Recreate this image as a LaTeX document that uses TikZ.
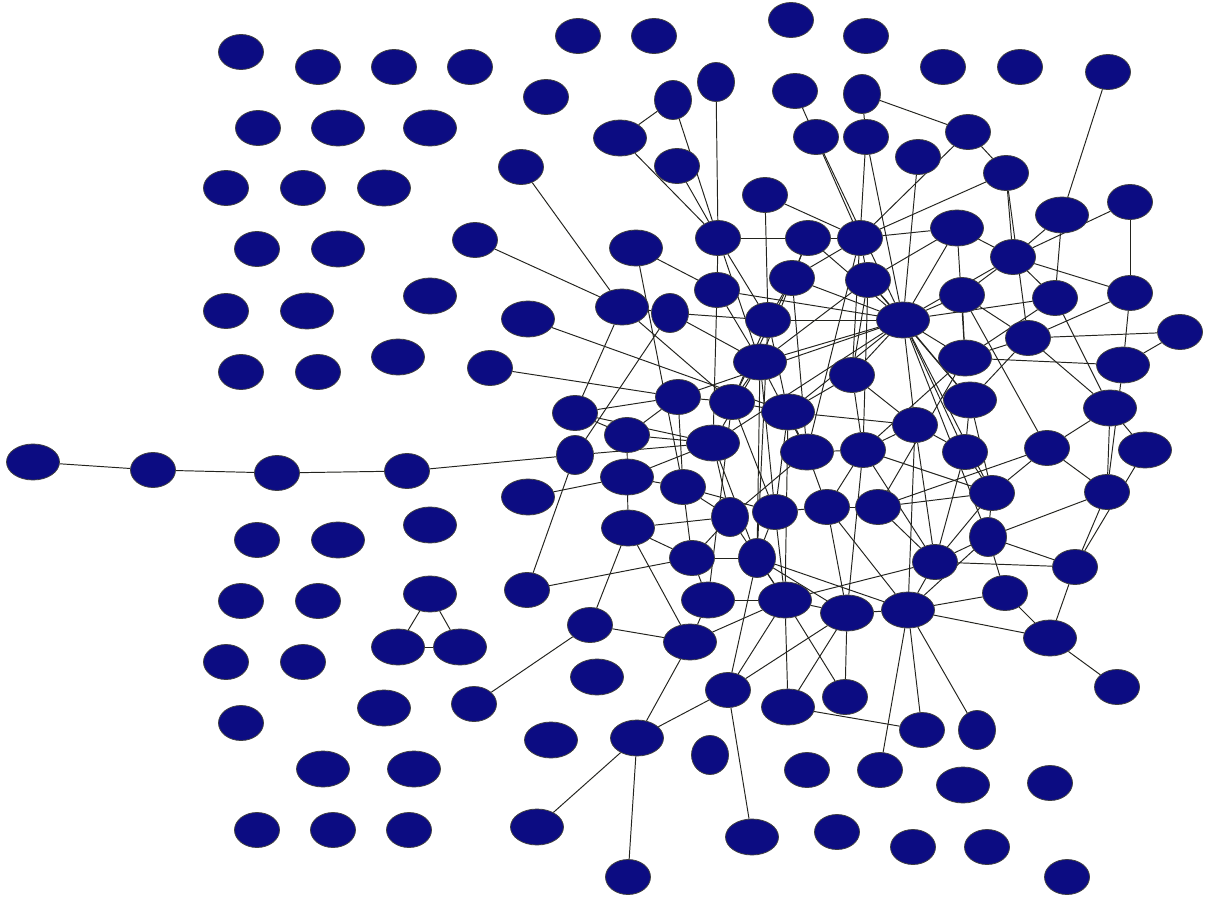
\documentclass[tikz,border=0pt]{standalone}
\usetikzlibrary{shapes.geometric,backgrounds}
\definecolor{navy}{RGB}{12,12,130}
\definecolor{edgec}{RGB}{35,35,30}
\tikzset{
  x=0.02cm, y=-0.02cm,
  nd/.style={ellipse, draw=black!75, fill=navy, inner sep=0pt, line width=0.45pt},
  ns/.style={nd, minimum width=0.9cm, minimum height=0.7cm},
  nw/.style={nd, minimum width=1.06cm, minimum height=0.72cm},
  nr/.style={nd, minimum width=0.74cm, minimum height=0.78cm},
  ed/.style={draw=edgec, line width=0.55pt}
}
\begin{document}
\begin{tikzpicture}
\useasboundingbox (0,0) rectangle (1209,898);
% left isolated
\node[ns] (i1) at (241,52) {};
\node[ns] (i2) at (318,67) {};
\node[ns] (i3) at (394,67) {};
\node[ns] (i4) at (470,67) {};
\node[ns] (i5) at (258,128) {};
\node[nw] (i6) at (338,128) {};
\node[nw] (i7) at (430,128) {};
\node[ns] (i8) at (226,188) {};
\node[ns] (i9) at (303,188) {};
\node[nw] (i10) at (384,188) {};
\node[ns] (i11) at (257,249) {};
\node[nw] (i12) at (338,249) {};
\node[nw] (i13) at (430,296) {};
\node[ns] (i14) at (226,311) {};
\node[nw] (i15) at (307,311) {};
\node[nw] (i16) at (398,357) {};
\node[ns] (i17) at (241,372) {};
\node[ns] (i18) at (318,372) {};
\node[nw] (c1) at (33,462) {};
\node[ns] (c2) at (153,470) {};
\node[ns] (c3) at (277,473) {};
\node[ns] (c4) at (407,471) {};
\node[nw] (i19) at (430,525) {};
\node[ns] (i20) at (257,540) {};
\node[nw] (i21) at (338,540) {};
\node[nw] (t1) at (430,594) {};
\node[nw] (t2) at (398,647) {};
\node[nw] (t3) at (460,647) {};
\node[ns] (i22) at (241,601) {};
\node[ns] (i23) at (318,601) {};
\node[ns] (i24) at (226,662) {};
\node[ns] (i25) at (303,662) {};
\node[ns] (i26) at (241,723) {};
\node[nw] (i27) at (384,708) {};
\node[ns] (n474) at (474,704) {};
\node[nw] (i28) at (323,769) {};
\node[nw] (i29) at (414,769) {};
\node[ns] (i30) at (257,830) {};
\node[ns] (i31) at (333,830) {};
\node[ns] (i32) at (409,830) {};
% top
\node[ns] (a1) at (578,36) {};
\node[ns] (a2) at (654,36) {};
\node[ns] (a3) at (791,20) {};
\node[ns] (a4) at (866,36) {};
\node[ns] (a5) at (943,67) {};
\node[ns] (a6) at (1020,67) {};
\node[ns] (a7) at (1108,72) {};
\node[ns] (a8) at (546,97) {};
\node[nr] (a9) at (673,100) {};
\node[nr] (a10) at (716,82) {};
\node[ns] (a11) at (795,91) {};
\node[nr] (a12) at (862,94) {};
\node[nw] (a13) at (620,138) {};
\node[ns] (a14) at (677,166) {};
\node[ns] (a15) at (816,137) {};
\node[ns] (a16) at (866,137) {};
\node[ns] (a17) at (918,157) {};
\node[ns] (a18) at (968,132) {};
\node[ns] (a19) at (1006,173) {};
\node[ns] (a20) at (521,167) {};
\node[ns] (a21) at (765,195) {};
\node[nw] (a22) at (1062,215) {};
\node[ns] (a23) at (1130,202) {};
\node[ns] (a24) at (475,240) {};
% middle
\node[nw] (b1) at (636,248) {};
\node[ns] (b2) at (718,238) {};
\node[ns] (b3) at (808,238) {};
\node[ns] (b4) at (860,238) {};
\node[nw] (b5) at (957,228) {};
\node[ns] (b6) at (1013,257) {};
\node[ns] (b7) at (792,278) {};
\node[ns] (b8) at (868,280) {};
\node[ns] (b9) at (717,290) {};
\node[ns] (b10) at (962,295) {};
\node[ns] (b11) at (1055,298) {};
\node[ns] (b12) at (1130,293) {};
\node[nw] (b13) at (528,319) {};
\node[nw] (b14) at (622,307) {};
\node[nr] (b15) at (670,313) {};
\node[ns] (b16) at (768,320) {};
\node[nw] (b17) at (903,320) {};
\node[ns] (b18) at (1028,338) {};
\node[ns] (b19) at (1180,332) {};
\node[ns] (b20) at (490,368) {};
\node[nw] (b21) at (760,362) {};
\node[nw] (b22) at (965,358) {};
\node[nw] (b23) at (1123,365) {};
\node[ns] (b24) at (852,375) {};
\node[nw] (b25) at (970,400) {};
\node[nw] (b26) at (1110,408) {};
\node[ns] (b27) at (575,413) {};
\node[ns] (b28) at (678,397) {};
\node[ns] (b29) at (732,402) {};
\node[nw] (b30) at (788,412) {};
\node[ns] (b31) at (915,425) {};
\node[ns] (b32) at (627,435) {};
\node[nr] (b33) at (575,455) {};
\node[nw] (b34) at (713,443) {};
\node[nw] (b35) at (807,452) {};
\node[ns] (b36) at (863,450) {};
\node[ns] (b37) at (965,452) {};
\node[ns] (b38) at (1047,448) {};
\node[nw] (b39) at (1145,450) {};
\node[nw] (b40) at (627,477) {};
\node[ns] (b41) at (683,487) {};
\node[nw] (b42) at (528,497) {};
\node[ns] (b43) at (992,493) {};
\node[ns] (b44) at (1107,492) {};
\node[nr] (b45) at (730,517) {};
\node[ns] (b46) at (775,512) {};
\node[ns] (b47) at (827,507) {};
\node[ns] (b48) at (878,507) {};
\node[nr] (b49) at (988,537) {};
\node[nw] (b50) at (628,528) {};
\node[ns] (b51) at (692,558) {};
\node[nr] (b52) at (757,558) {};
\node[ns] (b53) at (935,562) {};
\node[ns] (b54) at (1075,567) {};
\node[ns] (b55) at (527,590) {};
\node[ns] (b56) at (1005,593) {};
\node[nw] (b57) at (708,600) {};
\node[nw] (b58) at (785,600) {};
\node[nw] (b59) at (847,613) {};
\node[nw] (b60) at (908,610) {};
\node[ns] (b61) at (590,625) {};
\node[nw] (b62) at (690,642) {};
\node[nw] (b63) at (1050,638) {};
\node[ns] (b64) at (1117,687) {};
\node[nw] (b65) at (597,677) {};
\node[ns] (b66) at (728,690) {};
\node[nw] (b67) at (788,707) {};
\node[ns] (b68) at (845,697) {};
\node[ns] (b69) at (922,730) {};
\node[nr] (b70) at (977,730) {};
\node[nw] (b71) at (637,738) {};
\node[nw] (b72) at (551,740) {};
\node[nr] (b73) at (710,755) {};
\node[ns] (b74) at (807,770) {};
\node[ns] (b75) at (880,770) {};
\node[nw] (b76) at (963,785) {};
\node[ns] (b77) at (1050,783) {};
\node[nw] (b78) at (537,827) {};
\node[nw] (b79) at (752,837) {};
\node[ns] (b80) at (837,832) {};
\node[ns] (b81) at (913,847) {};
\node[ns] (b82) at (987,847) {};
\node[ns] (b83) at (1067,877) {};
\node[ns] (b84) at (628,877) {};
\begin{scope}[on background layer]
\fill[white] (0,0) rectangle (1209,898);
\foreach \u/\v in {c1/c2,c2/c3,c3/c4,c4/b33,t1/t2,t1/t3,t2/t3,n474/b61,
 a9/a13,a9/b2,a10/b2,a13/b2,a14/b2,a20/b14,a24/b14,a21/b16,a21/b4,a11/b4,a15/b17,a12/a16,a12/a18,a16/b4,a16/b17,a17/b17,a18/b4,a18/a19,a19/b4,a19/b6,a19/b18,a7/a22,a22/b6,a22/b11,a23/b6,a23/b12,
 b6/b12,b6/b11,b6/b10,b6/b17,b5/b6,b5/b17,b4/b5,b12/b23,b12/b18,b11/b17,b11/b26,b18/b19,b19/b23,b18/b22,b10/b22,b10/b17,b10/b18,b10/b38,b22/b23,b17/b22,b18/b26,b18/b25,b17/b25,b17/b31,b17/b37,b17/b43,b17/b49,
 b26/b38,b26/b39,b26/b44,b23/b44,b39/b54,b44/b54,b44/b49,b38/b43,b38/b44,b48/b38,b49/b54,b49/b43,b49/b53,b53/b54,b54/b63,b56/b63,b60/b56,b60/b63,b63/b64,b60/b53,b53/b43,b53/b37,b25/b37,b25/b43,b37/b43,b36/b43,b36/b53,b48/b43,b24/b31,b30/b31,b31/b53,b31/b37,b36/b31,b49/b56,b49/b60,b48/b53,
 b1/b9,b1/b41,b14/b15,b15/b16,b15/b21,b14/b29,b2/b9,b9/b34,b2/b16,b2/b3,b9/b17,b3/b4,b3/b7,b7/b17,b16/b17,b24/b17,b30/b17,b24/b30,b4/b7,b4/b8,b8/b17,b3/b17,b4/b35,b21/b9,b21/b8,b21/b17,b21/b29,b21/b34,b21/b35,b21/b46,b21/b52,b13/b30,b14/b27,b15/b33,b20/b28,b27/b28,b27/b32,b32/b34,b32/b28,b33/b34,b40/b34,b40/b41,b42/b40,b41/b51,b41/b45,b34/b45,b50/b45,b45/b51,b51/b52,b51/b57,b50/b51,b50/b61,b50/b62,b33/b55,b55/b51,b28/b29,b29/b30,b30/b35,b35/b36,b35/b47,b47/b48,b46/b47,b36/b47,b46/b58,b47/b59,b53/b58,b59/b60,b35/b45,b30/b46,
 b52/b66,b52/b58,b52/b59,b52/b60,b58/b66,b58/b67,b58/b68,b58/b59,b57/b58,b59/b68,b59/b67,b59/b66,b62/b61,b62/b57,b62/b58,b62/b71,b66/b71,b66/b79,b71/b78,b71/b84,b67/b69,b60/b69,b60/b70,b60/b75,b47/b60,b36/b59,
 b8/b24,b7/b29,b7/b16,b16/b29,b2/b21,b28/b17,b34/b17,b16/b30,b8/b36,b22/b36,b22/b48,b5/b8,b5/b22,b8/b25,b11/b22,b4/b24,b29/b46,b34/b52,b41/b46,b45/b58,b28/b41,b32/b50,b27/b34,
 b16/b52,b29/b57,b3/b21,b7/b35,b30/b58,b24/b36,b31/b60,b46/b52}
  \draw[ed] (\u) -- (\v);
\end{scope}
\end{tikzpicture}
\end{document}
